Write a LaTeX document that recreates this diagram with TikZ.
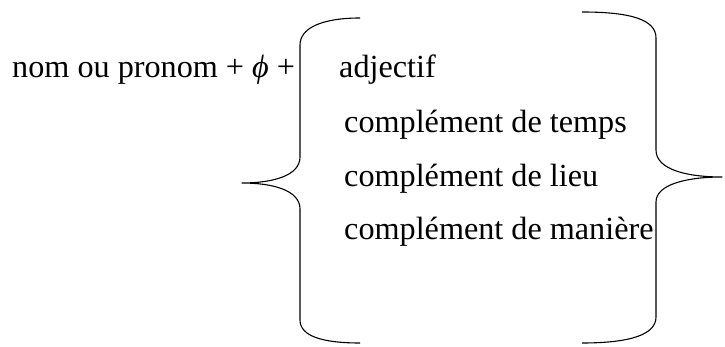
\documentclass[tikz,border=0pt]{standalone}
\usepackage{fontspec}
\setmainfont{Liberation Serif}
\begin{document}
\begin{tikzpicture}[x=1pt,y=-1pt,
  txt/.style={inner sep=0pt,anchor=base west,font=\fontsize{32.2}{38}\selectfont},
  brace/.style={draw=black,line width=1.1pt,line join=round}]
\useasboundingbox (0,0) rectangle (725,347);
\node[txt] (lhs) at (12,78) {nom ou pronom + \textit{ϕ} +};
\node[txt] (adj) at (339,78) {adjectif};
\node[txt] (temps) at (344,133) {complément de temps};
\node[txt] (lieu) at (344,187) {complément de lieu};
\node[txt] (maniere) at (344,240) {complément de manière};
% left brace
\coordinate (lbtop) at (360,18);
\coordinate (lbtip) at (242,183);
\coordinate (lbbot) at (360,343);
\draw[brace] (lbtop) .. controls (322,18) and (300,28) .. (300,45)
  -- (300,157) .. controls (300,176) and (272,183) .. (lbtip)
  .. controls (272,183) and (300,190) .. (300,209)
  -- (300,320) .. controls (300,336) and (322,343) .. (lbbot);
% right brace
\coordinate (rbtop) at (582,12);
\coordinate (rbtip) at (722,177);
\coordinate (rbbot) at (582,343);
\draw[brace] (rbtop) .. controls (632,12) and (656,20) .. (656,38)
  -- (656,150) .. controls (656,170) and (688,177) .. (rbtip)
  .. controls (688,177) and (656,184) .. (656,202)
  -- (656,317) .. controls (656,334) and (632,343) .. (rbbot);
\end{tikzpicture}
\end{document}
